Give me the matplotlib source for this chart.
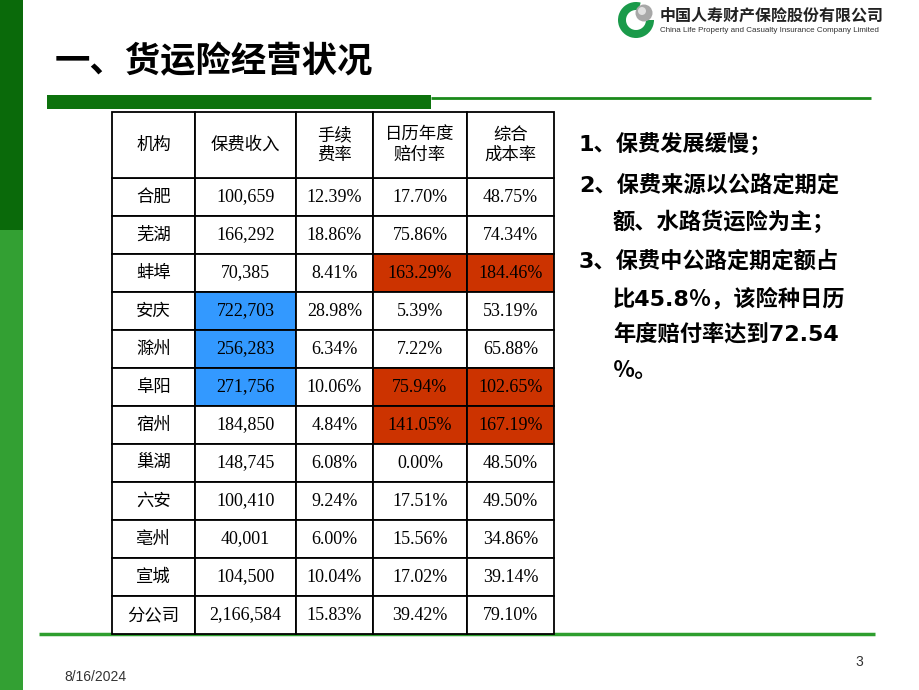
import matplotlib
matplotlib.use("Agg")
import matplotlib.pyplot as plt
from matplotlib.patches import Rectangle, Wedge, Circle

# =============================================
# DATA
# =============================================
title = "一、货运险经营状况"
headers = ["机构", "保费收入", "手续\n费率", "日历年度\n赔付率", "综合\n成本率"]
branches = ["合肥", "芜湖", "蚌埠", "安庆", "滁州", "阜阳", "宿州",
            "巢湖", "六安", "亳州", "宣城", "分公司"]
premium = ["100,659", "166,292", "70,385", "722,703", "256,283", "271,756",
           "184,850", "148,745", "100,410", "40,001", "104,500", "2,166,584"]
fee_rate = ["12.39%", "18.86%", "8.41%", "28.98%", "6.34%", "10.06%",
            "4.84%", "6.08%", "9.24%", "6.00%", "10.04%", "15.83%"]
loss_ratio = ["17.70%", "75.86%", "163.29%", "5.39%", "7.22%", "75.94%",
              "141.05%", "0.00%", "17.51%", "15.56%", "17.02%", "39.42%"]
cost_ratio = ["48.75%", "74.34%", "184.46%", "53.19%", "65.88%", "102.65%",
              "167.19%", "48.50%", "49.50%", "34.86%", "39.14%", "79.10%"]

# highlighted cells
blue_rows = ["安庆", "滁州", "阜阳"]          # premium column
red_rows = ["蚌埠", "阜阳", "宿州"]           # loss ratio + cost ratio columns

notes = [
    ("1、保费发展缓慢；", False),
    ("2、保费来源以公路定期定", False),
    ("额、水路货运险为主；", True),
    ("3、保费中公路定期定额占", False),
    ("比45.8％，该险种日历", True),
    ("年度赔付率达到72.54", True),
    ("％。", True),
]
date_text = "8/16/2024"
page_no = "3"

# =============================================
# STYLE
# =============================================
CJK = ["Noto Sans CJK SC", "DejaVu Sans"]
NOTE_FONT = ["DejaVu Sans", "Noto Sans CJK SC"]
CELL_FONT = ["Liberation Serif", "Noto Sans CJK SC"]
FOOT_FONT = ["Liberation Sans Narrow", "Liberation Sans"]
BLUE = "#3399ff"
RED = "#cc3300"

fig = plt.figure(figsize=(9.2, 6.9), dpi=100)
ax = fig.add_axes([0, 0, 1, 1])
ax.set_xlim(0, 920)
ax.set_ylim(690, 0)
ax.axis("off")

# left strip
ax.add_patch(Rectangle((0, 0), 23, 230, color="#0a6a0a", lw=0))
ax.add_patch(Rectangle((0, 230), 23, 460, color="#33a033", lw=0))

# title and title rules
ax.text(55, 62, title, fontsize=25.5, fontweight="bold", family=CJK,
        va="center", ha="left", color="black")
ax.add_patch(Rectangle((47, 95), 384, 14, color="#0d720d", lw=0))
ax.plot([431, 871], [98, 98], color="#1a8a1a", lw=2, solid_capstyle="butt")
ax.plot([39, 875], [634, 634], color="#2e9e2e", lw=2.5, solid_capstyle="butt", zorder=1)

# logo
ax.add_patch(Wedge((636, 20), 18, 0, 285, width=8, color="#1a9a4a", lw=0))
ax.add_patch(Circle((644, 13), 8.5, color="#a8a8a8", lw=0))
ax.add_patch(Circle((642, 11), 4, color="#e0e0e0", lw=0))
ax.text(660, 16, "中国人寿财产保险股份有限公司", fontsize=11.5, fontweight="bold",
        family=CJK, va="center", ha="left", color="#222222")
ax.text(660, 31, "China Life Property and Casualty Insurance Company Limited",
        fontsize=5.8, family="Liberation Sans", va="center", ha="left", color="#333333")

# =============================================
# TABLE
# =============================================
col_edges = [112, 195, 296, 373, 467, 554]
header_top, header_bottom = 112, 178
row_h = (634 - header_bottom) / len(branches)

columns = [branches, premium, fee_rate, loss_ratio, cost_ratio]

for i, name in enumerate(branches):
    y0 = header_bottom + i * row_h
    for j in range(5):
        x0, x1 = col_edges[j], col_edges[j + 1]
        face = "white"
        if j == 1 and name in blue_rows:
            face = BLUE
        if j in (3, 4) and name in red_rows:
            face = RED
        ax.add_patch(Rectangle((x0, y0), x1 - x0, row_h, facecolor=face,
                               edgecolor="black", lw=1.3, zorder=2))
        ax.text((x0 + x1) / 2, y0 + row_h / 2, columns[j][i],
                fontsize=13 if j else 12.5,
                family=CELL_FONT if j else CJK, ha="center", va="center",
                color="black", zorder=3)

for j, h in enumerate(headers):
    x0, x1 = col_edges[j], col_edges[j + 1]
    ax.add_patch(Rectangle((x0, header_top), x1 - x0, header_bottom - header_top,
                           facecolor="white", edgecolor="black", lw=1.3, zorder=2))
    ax.text((x0 + x1) / 2, (header_top + header_bottom) / 2, h, fontsize=12.5,
            family=CJK, ha="center", va="center", linespacing=1.15, zorder=3)

# =============================================
# NOTES
# =============================================
note_y = [143, 185, 221, 261, 298, 334, 371]
for (txt, indent), y in zip(notes, note_y):
    ax.text(613 if indent else 579, y, txt, fontsize=16, fontweight="bold",
            family=NOTE_FONT, ha="left", va="center", color="black")

# footer
ax.text(64, 677, date_text, fontsize=10, family=FOOT_FONT,
        ha="left", va="center", color="#333333")
ax.text(859, 662, page_no, fontsize=10, family=FOOT_FONT,
        ha="center", va="center", color="#333333")

fig.savefig("out.png", dpi=100, facecolor="white")
plt.close(fig)
